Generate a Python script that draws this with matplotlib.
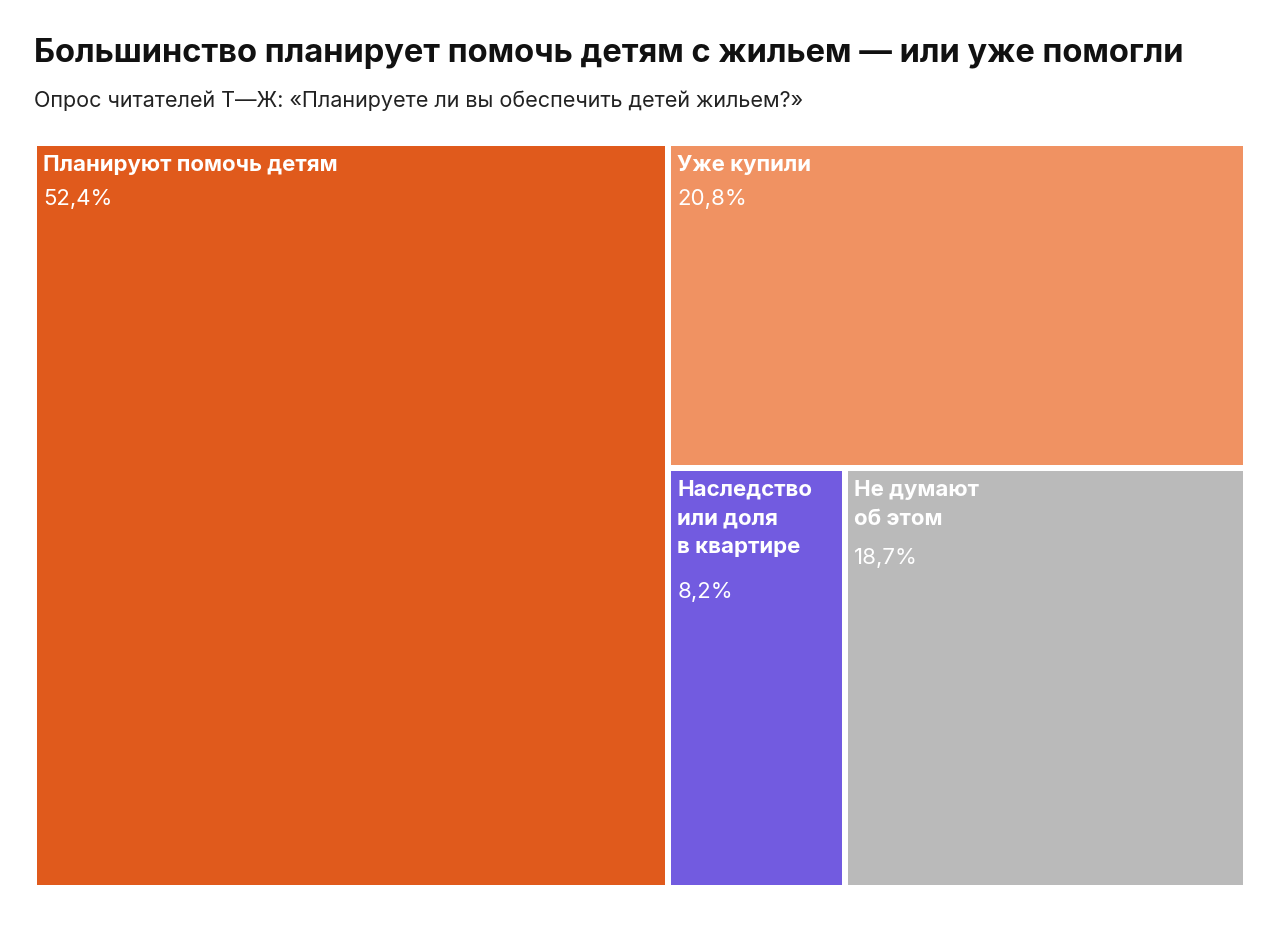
import matplotlib
matplotlib.use("Agg")
import matplotlib.pyplot as plt
from matplotlib.patches import Rectangle

labels = ["Планируют помочь детям", "Уже купили", "Наследство\nили доля\nв квартире", "Не думают\nоб этом"]
values = [52.4, 20.8, 8.2, 18.7]
value_labels = ["52,4%", "20,8%", "8,2%", "18,7%"]
colors = ["#E05A1C", "#F09262", "#725BE0", "#BABABA"]

plt.rcParams['font.family'] = ['Inter', 'DejaVu Sans']
fig = plt.figure(figsize=(12.8, 9.27), dpi=100)
ax = fig.add_axes([0, 0, 1, 1])
ax.set_xlim(0, 1280); ax.set_ylim(927, 0); ax.axis('off')

X0, X1, Y0, Y1 = 34, 1246, 143, 888
W, H = X1 - X0, Y1 - Y0
tot = sum(values)
rects = []
w0 = W * values[0] / tot
rects.append((X0, Y0, w0, H))
rest = tot - values[0]
h1 = H * values[1] / rest
rects.append((X0 + w0, Y0, W - w0, h1))
bot = values[2] + values[3]
w2 = (W - w0) * values[2] / bot
rects.append((X0 + w0, Y0 + h1, w2, H - h1))
rects.append((X0 + w0 + w2, Y0 + h1, W - w0 - w2, H - h1))

g = 3
for (x, y, w, h), lab, vl, c in zip(rects, labels, value_labels, colors):
    ax.add_patch(Rectangle((x + g, y + g), w - 2 * g, h - 2 * g, color=c, lw=0))
    n = lab.count("\n") + 1
    ax.text(x + 9, y + 12, lab, color='white', fontsize=16, fontweight='bold',
            va='top', ha='left', linespacing=1.55)
    ax.text(x + 9, y + 12 + n * 34, vl, color='white', fontsize=16, va='top', ha='left')

ax.text(34, 53, "Большинство планирует помочь детям с жильем — или уже помогли",
        fontsize=23.5, fontweight='bold', va='center', ha='left', color='#111111')
ax.text(34, 101, "Опрос читателей Т—Ж: «Планируете ли вы обеспечить детей жильем?»",
        fontsize=15.5, va='center', ha='left', color='#222222')
fig.savefig("out.png", dpi=100, facecolor='white')
